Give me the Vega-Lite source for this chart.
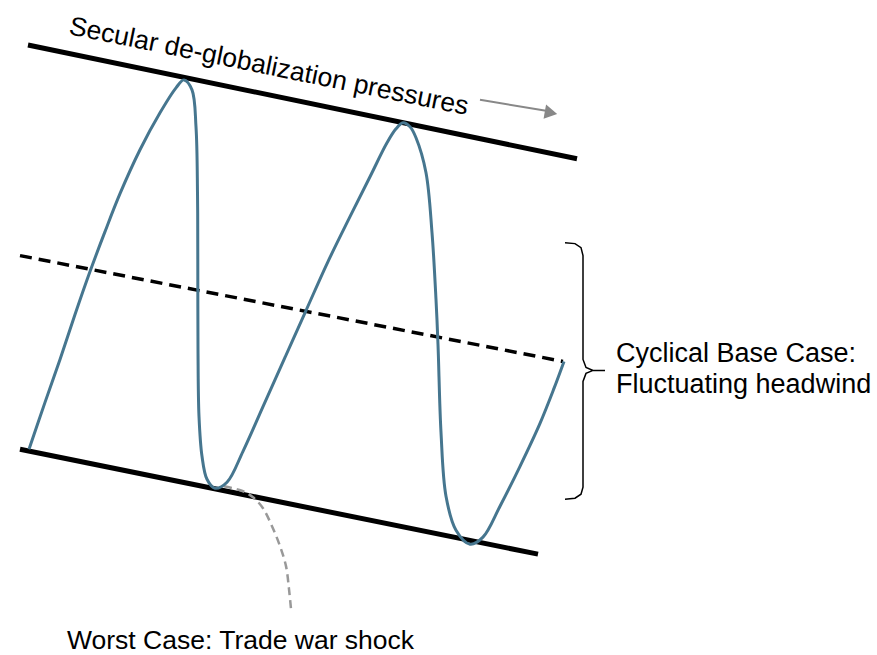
{
  "$schema": "https://vega.github.io/schema/vega-lite/v6.json",
  "width": 877,
  "height": 655,
  "autosize": {"type": "fit", "contains": "padding"},
  "padding": 0,
  "background": "white",
  "config": {"view": {"stroke": null}},
  "datasets": {
    "upper": [{"i": 1, "x": 28, "y": 45}, {"i": 2, "x": 577, "y": 159}],
    "lower": [{"i": 1, "x": 20, "y": 450}, {"i": 2, "x": 538, "y": 555}],
    "mid": [{"i": 1, "x": 20, "y": 256}, {"i": 2, "x": 563, "y": 362}],
    "wave": [
      {"i": 1, "x": 29, "y": 450}, {"i": 2, "x": 45, "y": 403}, {"i": 3, "x": 60, "y": 360},
      {"i": 4, "x": 75, "y": 315}, {"i": 5, "x": 90, "y": 272}, {"i": 6, "x": 105, "y": 232},
      {"i": 7, "x": 120, "y": 194}, {"i": 8, "x": 140, "y": 150}, {"i": 9, "x": 160, "y": 113},
      {"i": 10, "x": 176, "y": 88}, {"i": 11, "x": 184, "y": 80}, {"i": 12, "x": 192, "y": 90},
      {"i": 13, "x": 196, "y": 127}, {"i": 14, "x": 197.5, "y": 193}, {"i": 15, "x": 197.8, "y": 260},
      {"i": 16, "x": 198, "y": 350}, {"i": 17, "x": 199, "y": 417}, {"i": 18, "x": 202, "y": 457},
      {"i": 19, "x": 207, "y": 480}, {"i": 20, "x": 215, "y": 489}, {"i": 21, "x": 227, "y": 483},
      {"i": 22, "x": 243, "y": 452}, {"i": 23, "x": 264, "y": 405}, {"i": 24, "x": 285, "y": 358},
      {"i": 25, "x": 306, "y": 311}, {"i": 26, "x": 328, "y": 262}, {"i": 27, "x": 350, "y": 217},
      {"i": 28, "x": 370, "y": 177}, {"i": 29, "x": 387, "y": 143}, {"i": 30, "x": 396, "y": 129},
      {"i": 31, "x": 403, "y": 123}, {"i": 32, "x": 410, "y": 127},
      {"i": 33, "x": 416, "y": 138}, {"i": 34, "x": 426, "y": 173}, {"i": 35, "x": 432, "y": 233},
      {"i": 36, "x": 436, "y": 300}, {"i": 37, "x": 438, "y": 345}, {"i": 38, "x": 441, "y": 433},
      {"i": 39, "x": 446, "y": 497}, {"i": 40, "x": 456, "y": 531}, {"i": 41, "x": 470, "y": 545},
      {"i": 42, "x": 483, "y": 538}, {"i": 43, "x": 500, "y": 507}, {"i": 44, "x": 520, "y": 467},
      {"i": 45, "x": 540, "y": 424}, {"i": 46, "x": 554, "y": 389}, {"i": 47, "x": 564, "y": 362}
    ],
    "shock": [
      {"i": 1, "x": 224, "y": 487}, {"i": 2, "x": 243, "y": 492}, {"i": 3, "x": 253, "y": 498},
      {"i": 4, "x": 263, "y": 509}, {"i": 5, "x": 272, "y": 527}, {"i": 6, "x": 280, "y": 547},
      {"i": 7, "x": 286, "y": 567}, {"i": 8, "x": 289, "y": 590}, {"i": 9, "x": 291, "y": 610}
    ],
    "arrow": [{"i": 1, "x": 480, "y": 100}, {"i": 2, "x": 546, "y": 111}],
    "arrowhead": [{"x": 551, "y": 113}],
    "bracket": [
      {"i": 1, "x": 565, "y": 243}, {"i": 2, "x": 575, "y": 244}, {"i": 3, "x": 581, "y": 248},
      {"i": 4, "x": 583, "y": 256}, {"i": 5, "x": 583, "y": 360}, {"i": 6, "x": 586, "y": 368},
      {"i": 7, "x": 593, "y": 371}, {"i": 8, "x": 605, "y": 371}, {"i": 9, "x": 593, "y": 371},
      {"i": 10, "x": 586, "y": 374}, {"i": 11, "x": 583, "y": 382}, {"i": 12, "x": 583, "y": 488},
      {"i": 13, "x": 581, "y": 495}, {"i": 14, "x": 575, "y": 499}, {"i": 15, "x": 565, "y": 500}
    ],
    "labels": [
      {"t": "Cyclical Base Case:", "x": 616, "y": 363},
      {"t": "Fluctuating headwind", "x": 616, "y": 394}
    ],
    "bottom": [
      {"t": "Worst Case: Trade war shock", "x": 67, "y": 650}
    ],
    "title": [{"t": "Secular de-globalization pressures", "x": 68, "y": 34}]
  },
  "encoding": {
    "x": {"field": "x", "type": "quantitative", "scale": {"domain": [0, 877], "nice": false, "zero": false}, "axis": null},
    "y": {"field": "y", "type": "quantitative", "scale": {"domain": [0, 655], "nice": false, "zero": false, "reverse": true}, "axis": null}
  },
  "layer": [
    {"data": {"name": "upper"}, "mark": {"type": "line", "color": "black", "strokeWidth": 5}, "encoding": {"order": {"field": "i"}}},
    {"data": {"name": "lower"}, "mark": {"type": "line", "color": "black", "strokeWidth": 5}, "encoding": {"order": {"field": "i"}}},
    {"data": {"name": "mid"}, "mark": {"type": "line", "color": "black", "strokeWidth": 3.5, "strokeDash": [12, 7]}, "encoding": {"order": {"field": "i"}}},
    {"data": {"name": "shock"}, "mark": {"type": "line", "color": "#999999", "strokeWidth": 2.5, "strokeDash": [8, 5], "interpolate": "catmull-rom"}, "encoding": {"order": {"field": "i"}}},
    {"data": {"name": "wave"}, "mark": {"type": "line", "color": "#46768f", "strokeWidth": 3, "interpolate": "catmull-rom"}, "encoding": {"order": {"field": "i"}}},
    {"data": {"name": "arrow"}, "mark": {"type": "line", "color": "#888888", "strokeWidth": 2}, "encoding": {"order": {"field": "i"}}},
    {"data": {"name": "arrowhead"}, "mark": {"type": "point", "shape": "triangle-right", "filled": true, "color": "#888888", "opacity": 1, "size": 210, "angle": 10}},
    {"data": {"name": "bracket"}, "mark": {"type": "line", "color": "black", "strokeWidth": 1.5, "interpolate": "linear"}, "encoding": {"order": {"field": "i"}}},
    {"data": {"name": "labels"}, "mark": {"type": "text", "align": "left", "baseline": "alphabetic", "font": "Liberation Sans", "fontSize": 27, "color": "black"}, "encoding": {"text": {"field": "t"}}},
    {"data": {"name": "bottom"}, "mark": {"type": "text", "align": "left", "baseline": "alphabetic", "font": "Liberation Sans", "fontSize": 26.5, "color": "black"}, "encoding": {"text": {"field": "t"}}},
    {"data": {"name": "title"}, "mark": {"type": "text", "align": "left", "baseline": "alphabetic", "font": "Liberation Sans", "fontSize": 26.5, "color": "black", "angle": 11.5}, "encoding": {"text": {"field": "t"}}}
  ]
}
